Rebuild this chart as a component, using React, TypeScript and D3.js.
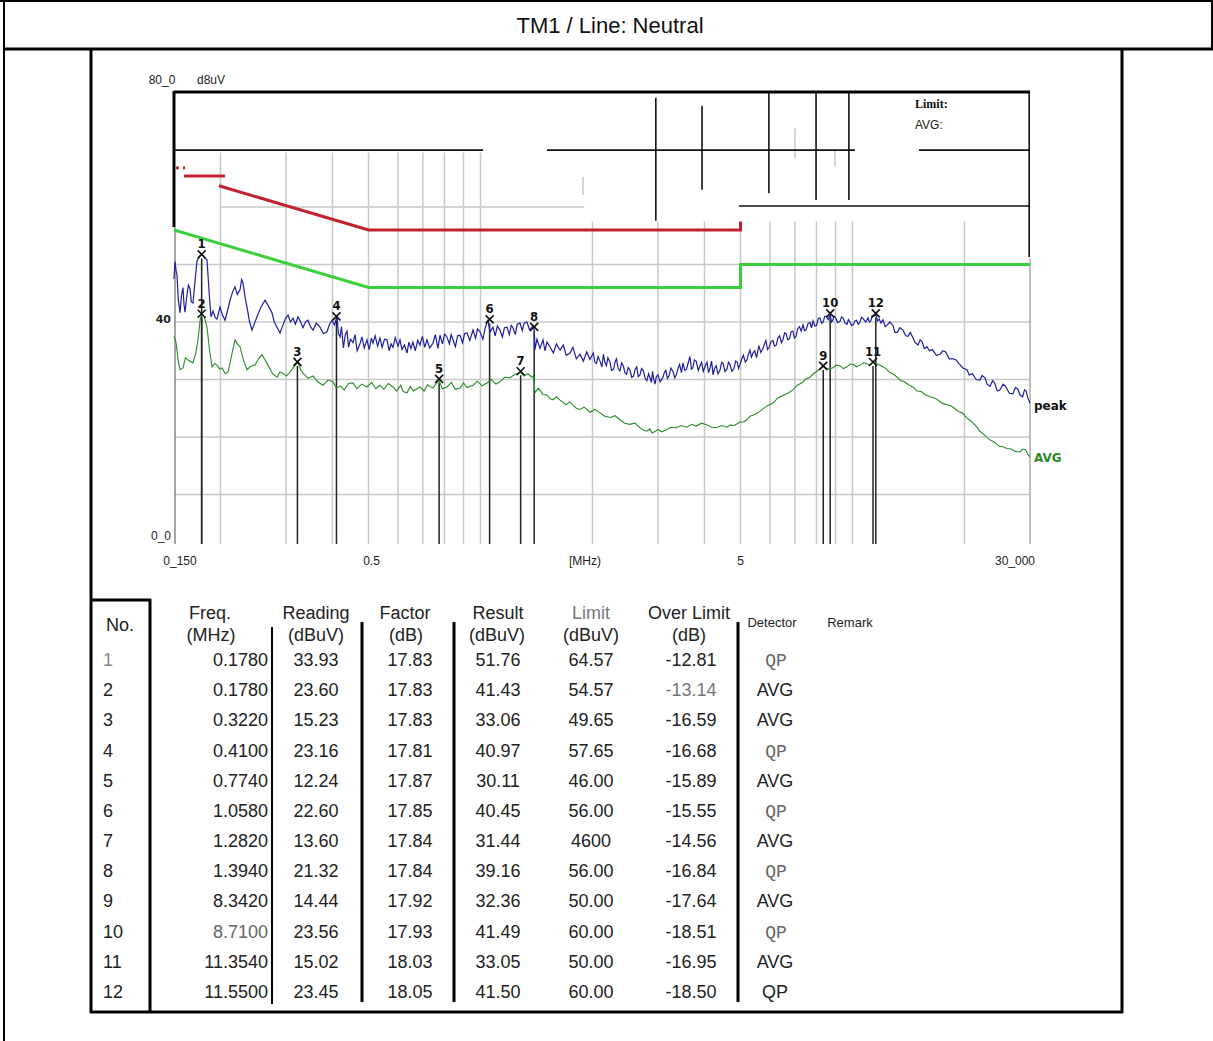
import * as d3 from 'd3';

// ---- data ----
const peakTrace: [number, number][] = [
  [0.15, 47.5], [0.151, 50.5], [0.1519, 49.0], [0.1528, 48.2], [0.154, 44.0], [0.1557, 41.6], [0.157, 44.5],
  [0.1586, 46.0], [0.1596, 43.0], [0.1606, 41.7], [0.162, 44.0], [0.164, 46.4], [0.1656, 45.8], [0.167, 43.5],
  [0.1687, 43.3], [0.1705, 46.5], [0.1729, 50.6], [0.176, 51.5], [0.1784, 51.8], [0.181, 51.2], [0.184, 50.8],
  [0.1865, 45.0], [0.1886, 40.9], [0.191, 41.9], [0.1935, 40.8], [0.1958, 40.5], [0.1994, 42.6], [0.2025, 41.2],
  [0.2057, 40.3], [0.209, 42.0], [0.2122, 43.8], [0.2155, 45.2], [0.2188, 46.1], [0.222, 44.8], [0.2257, 45.6],
  [0.228, 47.4], [0.2299, 46.8], [0.233, 44.2], [0.2357, 42.6], [0.2395, 40.0], [0.2431, 38.6], [0.247, 39.8],
  [0.2507, 40.9], [0.257, 42.6], [0.2635, 43.8], [0.269, 42.8], [0.2751, 41.6], [0.279, 40.0], [0.2838, 39.1],
  [0.2891, 38.1], [0.2945, 39.5], [0.299, 40.6], [0.3038, 41.2], [0.3085, 40.0], [0.3134, 40.7], [0.318, 39.6],
  [0.3232, 40.9], [0.328, 40.1], [0.3333, 39.0], [0.3385, 40.0], [0.3438, 40.3], [0.349, 39.2], [0.3546, 38.6],
  [0.362, 39.8], [0.3703, 39.1], [0.378, 38.0], [0.3867, 38.3], [0.393, 39.6], [0.3989, 40.3], [0.405, 39.5],
  [0.4114, 41.0], [0.415, 38.0], [0.4192, 37.4], [0.423, 39.2], [0.428, 35.5], [0.433, 37.8], [0.4376, 38.4],
  [0.442, 35.6], [0.447, 37.0], [0.4542, 36.4], [0.46, 37.8], [0.466, 35.0], [0.4743, 36.2], [0.48, 37.4],
  [0.487, 35.5], [0.4953, 36.9], [0.502, 35.2], [0.509, 37.2], [0.514, 36.3], [0.521, 37.6], [0.529, 35.8],
  [0.5367, 37.2], [0.544, 35.6], [0.552, 37.0], [0.5605, 36.9], [0.568, 35.0], [0.575, 36.2], [0.5817, 35.6],
  [0.59, 37.3], [0.6, 35.8], [0.6075, 36.9], [0.615, 35.2], [0.625, 36.0], [0.6343, 34.6], [0.642, 36.5],
  [0.65, 35.4], [0.6583, 36.5], [0.668, 35.0], [0.678, 36.8], [0.6874, 36.0], [0.698, 37.5], [0.708, 35.6],
  [0.7179, 36.9], [0.73, 35.5], [0.7452, 36.3], [0.756, 37.8], [0.7686, 35.4], [0.7782, 37.7], [0.79, 36.2],
  [0.801, 37.9], [0.8127, 37.4], [0.825, 36.2], [0.834, 37.8], [0.8435, 36.9], [0.856, 35.7], [0.868, 37.6],
  [0.8809, 37.7], [0.895, 36.4], [0.906, 38.0], [0.9199, 38.1], [0.936, 36.8], [0.9546, 38.6], [0.97, 37.2],
  [0.982, 38.8], [0.9968, 38.3], [1.015, 37.0], [1.03, 39.0], [1.0473, 40.4], [1.06, 38.2], [1.0804, 39.1],
  [1.095, 37.6], [1.11, 39.3], [1.1282, 38.6], [1.145, 37.4], [1.16, 39.0], [1.1782, 39.1], [1.195, 37.8],
  [1.21, 39.4], [1.2227, 39.0], [1.24, 37.8], [1.255, 39.6], [1.2767, 39.8], [1.295, 38.5], [1.31, 39.8],
  [1.3332, 40.0], [1.355, 38.6], [1.3835, 39.3], [1.395, 38.6], [1.4008, 35.2], [1.4182, 37.0], [1.445, 35.4],
  [1.4723, 36.9], [1.49, 35.0], [1.509, 36.5], [1.537, 35.7], [1.57, 34.6], [1.6, 36.2], [1.636, 35.1],
  [1.67, 36.0], [1.7, 34.2], [1.74, 34.6], [1.772, 35.6], [1.81, 33.6], [1.851, 34.4], [1.89, 33.2],
  [1.93, 34.8], [1.969, 33.5], [2.01, 34.6], [2.03, 33.0], [2.05, 32.8], [2.07, 34.0], [2.095, 33.2],
  [2.12, 32.2], [2.14, 34.4], [2.16, 33.0], [2.18, 32.4], [2.2, 33.8], [2.229, 33.0], [2.25, 31.6],
  [2.28, 31.8], [2.3, 33.1], [2.32, 33.6], [2.345, 31.9], [2.371, 31.5], [2.395, 32.9], [2.42, 32.4],
  [2.445, 31.2], [2.47, 30.9], [2.495, 32.1], [2.523, 31.6], [2.55, 30.4], [2.58, 30.6], [2.605, 31.8],
  [2.63, 32.2], [2.655, 30.5], [2.683, 30.8], [2.71, 31.9], [2.74, 31.5], [2.77, 30.2], [2.8, 29.8],
  [2.83, 31.0], [2.855, 30.3], [2.88, 29.5], [2.9, 31.4], [2.925, 29.9], [2.945, 29.2], [2.97, 30.5],
  [3.0, 30.8], [3.04, 29.6], [3.094, 30.4], [3.12, 31.2], [3.15, 31.6], [3.18, 30.2], [3.21, 30.6],
  [3.25, 32.0], [3.291, 31.4], [3.33, 30.3], [3.36, 30.8], [3.4, 32.0], [3.43, 32.6], [3.47, 31.2],
  [3.502, 32.9], [3.54, 31.6], [3.58, 31.8], [3.62, 33.0], [3.657, 34.0], [3.69, 31.8], [3.72, 32.0],
  [3.76, 33.4], [3.8, 33.2], [3.85, 31.6], [3.891, 32.4], [3.93, 33.0], [3.97, 31.4], [4.02, 32.4],
  [4.063, 33.0], [4.1, 31.2], [4.14, 32.0], [4.18, 33.2], [4.22, 30.8], [4.26, 31.9], [4.3, 32.4],
  [4.35, 31.0], [4.402, 31.6], [4.45, 33.0], [4.49, 32.8], [4.54, 31.4], [4.598, 31.8], [4.64, 33.0],
  [4.684, 32.6], [4.74, 31.4], [4.8, 31.9], [4.85, 33.2], [4.9, 33.0], [4.94, 31.9], [4.983, 32.6],
  [5.04, 33.6], [5.09, 34.2], [5.15, 33.0], [5.203, 33.4], [5.25, 34.4], [5.3, 35.1], [5.35, 33.9],
  [5.401, 34.6], [5.46, 35.0], [5.52, 33.8], [5.56, 34.8], [5.6, 35.9], [5.67, 34.7], [5.745, 35.4],
  [5.8, 36.2], [5.85, 36.8], [5.91, 35.2], [5.97, 35.6], [6.04, 36.6], [6.111, 36.8], [6.17, 35.8],
  [6.24, 36.0], [6.3, 37.2], [6.37, 37.6], [6.44, 36.4], [6.503, 37.0], [6.57, 38.1], [6.63, 38.0],
  [6.7, 36.9], [6.77, 37.1], [6.84, 38.3], [6.918, 38.4], [6.98, 37.2], [7.05, 37.5], [7.12, 38.8],
  [7.2, 39.2], [7.28, 38.4], [7.362, 39.5], [7.43, 38.5], [7.5, 38.6], [7.6, 39.8], [7.688, 39.9],
  [7.76, 39.0], [7.832, 40.2], [7.92, 39.3], [8.0, 39.4], [8.09, 40.6], [8.178, 40.7], [8.26, 39.8],
  [8.34, 40.0], [8.42, 41.0], [8.5, 41.0], [8.6, 40.4], [8.71, 41.3], [8.78, 40.0], [8.84, 40.2],
  [8.92, 41.0], [9.0, 40.8], [9.12, 39.9], [9.253, 40.1], [9.35, 40.9], [9.45, 40.6], [9.55, 39.8],
  [9.66, 39.6], [9.75, 40.4], [9.845, 40.0], [9.95, 39.4], [10.05, 39.5], [10.15, 40.2], [10.25, 40.3],
  [10.36, 39.6], [10.47, 40.0], [10.58, 40.8], [10.7, 40.5], [10.85, 40.0], [11.01, 40.7], [11.1, 40.0],
  [11.2, 40.2], [11.3, 41.1], [11.4, 41.0], [11.55, 41.3], [11.68, 40.2], [11.8, 40.5], [11.93, 39.8],
  [12.07, 40.4], [12.25, 39.2], [12.4, 39.5], [12.6, 40.0], [12.85, 39.4], [13.0, 38.2], [13.2, 38.2],
  [13.4, 39.0], [13.67, 38.6], [13.9, 37.6], [14.1, 37.5], [14.3, 38.2], [14.54, 37.2], [14.75, 36.4],
  [15.0, 36.0], [15.2, 36.9], [15.4, 36.5], [15.6, 35.4], [15.86, 35.7], [16.1, 35.0], [16.4, 35.2],
  [16.8, 34.2], [17.19, 34.4], [17.5, 35.0], [17.8, 34.8], [18.2, 33.6], [18.63, 33.6], [19.0, 33.4],
  [19.3, 32.8], [19.8, 32.0], [20.31, 31.7], [20.6, 30.8], [21.0, 31.0], [21.5, 30.0], [22.01, 29.9],
  [22.3, 30.7], [22.7, 30.3], [23.0, 29.2], [23.42, 28.8], [23.8, 29.8], [24.1, 29.4], [24.5, 28.0],
  [24.91, 28.2], [25.4, 29.2], [25.8, 28.8], [26.4, 27.6], [27.0, 27.5], [27.4, 28.6], [27.8, 28.4],
  [28.2, 27.3], [28.66, 27.0], [29.0, 28.2], [29.3, 28.0], [29.6, 26.8], [30.0, 25.9],
];

const avgTrace: [number, number][] = [
  [0.15, 37.5], [0.1519, 36.5], [0.154, 33.2], [0.1557, 31.7], [0.1586, 32.0], [0.161, 33.8], [0.1636, 33.4],
  [0.1687, 32.9], [0.1715, 34.5], [0.174, 36.9], [0.1765, 40.6], [0.1784, 41.4], [0.181, 40.8], [0.184, 39.1],
  [0.187, 35.0], [0.1898, 32.2], [0.193, 32.8], [0.1958, 32.5], [0.199, 31.8], [0.202, 32.0], [0.206, 31.0],
  [0.2096, 31.3], [0.214, 34.0], [0.2188, 36.9], [0.222, 36.2], [0.2257, 35.7], [0.231, 33.2], [0.2357, 31.7],
  [0.241, 32.3], [0.2477, 32.5], [0.253, 33.6], [0.2586, 34.3], [0.264, 33.3], [0.2684, 32.5], [0.276, 31.0],
  [0.2838, 30.4], [0.289, 31.3], [0.2945, 31.1], [0.301, 30.6], [0.3076, 31.3], [0.315, 32.2], [0.3232, 33.0],
  [0.328, 31.8], [0.3333, 31.1], [0.344, 30.2], [0.3546, 30.6], [0.365, 29.6], [0.3773, 29.0], [0.389, 29.9],
  [0.4014, 29.6], [0.41, 28.5], [0.4192, 28.9], [0.43, 28.2], [0.442, 29.3], [0.4542, 29.4], [0.465, 28.4],
  [0.48, 29.2], [0.4953, 28.7], [0.51, 29.5], [0.523, 28.4], [0.5367, 29.0], [0.55, 28.3], [0.565, 29.3],
  [0.5817, 28.7], [0.595, 28.0], [0.61, 29.0], [0.62, 27.9], [0.6343, 27.7], [0.648, 28.8], [0.66, 28.0],
  [0.6874, 28.7], [0.705, 28.0], [0.72, 29.1], [0.7452, 28.5], [0.76, 29.3], [0.774, 29.8], [0.79, 28.4],
  [0.8127, 28.7], [0.835, 29.5], [0.855, 28.3], [0.8809, 28.5], [0.9, 29.4], [0.92, 28.6], [0.9546, 29.0],
  [0.98, 29.7], [1.01, 28.9], [1.0409, 29.4], [1.07, 30.0], [1.1, 29.2], [1.1282, 29.6], [1.16, 30.4],
  [1.2003, 30.3], [1.24, 30.9], [1.282, 31.2], [1.31, 30.6], [1.34, 31.0], [1.375, 30.4], [1.39, 30.6],
  [1.4008, 27.7], [1.43, 28.5], [1.4723, 27.4], [1.509, 27.3], [1.54, 26.6], [1.57, 26.5], [1.6, 27.0],
  [1.636, 26.4], [1.7, 25.6], [1.735, 26.1], [1.772, 25.6], [1.81, 25.0], [1.85, 24.8], [1.9, 25.2],
  [1.969, 24.3], [2.03, 24.8], [2.095, 24.2], [2.16, 23.6], [2.23, 23.4], [2.3, 23.7], [2.371, 23.0],
  [2.44, 22.4], [2.52, 22.2], [2.6, 22.4], [2.683, 21.6], [2.74, 21.2], [2.8, 21.0], [2.85, 21.4],
  [2.892, 20.7], [2.95, 21.0], [3.0, 21.3], [3.07, 20.9], [3.151, 21.2], [3.25, 21.7], [3.35, 21.6],
  [3.46, 22.0], [3.585, 21.7], [3.7, 22.2], [3.8, 21.9], [3.93, 22.4], [4.063, 22.1], [4.18, 21.7],
  [4.3, 21.6], [4.45, 22.0], [4.598, 21.7], [4.7, 22.1], [4.8, 22.0], [4.9, 22.3], [4.983, 22.6],
  [5.1, 22.6], [5.2, 23.0], [5.3, 23.6], [5.401, 23.8], [5.57, 24.2], [5.74, 24.9], [5.92, 25.5],
  [6.111, 25.9], [6.3, 26.8], [6.5, 27.2], [6.7, 27.6], [6.918, 28.2], [7.1, 29.0], [7.3, 29.4],
  [7.5, 30.1], [7.688, 30.4], [7.85, 31.0], [8.0, 31.4], [8.17, 31.8], [8.342, 32.3], [8.6, 31.8],
  [8.835, 32.0], [9.05, 32.5], [9.25, 32.4], [9.45, 31.9], [9.663, 32.2], [9.85, 32.7], [10.05, 32.6],
  [10.25, 32.2], [10.47, 32.5], [10.7, 32.9], [10.9, 32.8], [11.1, 32.5], [11.354, 33.0], [11.7, 32.7],
  [12.07, 32.2], [12.3, 31.9], [12.6, 31.2], [12.9, 30.9], [13.17, 30.4], [13.5, 29.8], [13.8, 29.6],
  [14.2, 29.0], [14.54, 28.7], [14.9, 28.0], [15.3, 27.9], [15.7, 27.3], [16.16, 27.0], [16.6, 26.8],
  [17.0, 26.4], [17.5, 25.8], [17.99, 25.6], [18.4, 25.4], [18.8, 25.0], [19.3, 24.4], [19.76, 24.2],
  [20.2, 23.4], [20.6, 23.0], [21.1, 22.4], [21.6, 21.7], [22.0, 21.0], [22.5, 20.5], [23.0, 19.9],
  [23.42, 19.5], [23.9, 19.2], [24.3, 18.9], [24.8, 18.4], [25.38, 18.3], [26.0, 18.0], [26.7, 17.9],
  [27.4, 17.5], [28.19, 17.4], [28.7, 17.9], [29.2, 17.8], [29.6, 17.0], [30.0, 16.5],
];

// limit lines (QP is only partly visible on the scan)
const qpLimit: [number, number][] = [[0.198, 63.7], [0.5, 56], [5, 56], [5, 57.5]];
const qpLimitBits: [number, number][][] = [
  [[0.1596, 65.4], [0.2057, 65.4]],
  [[0.1519, 66.8], [0.1545, 66.8]],
  [[0.1586, 66.8], [0.1606, 66.8]],
];
const avgLimit: [number, number][] = [[0.15, 56], [0.5, 46], [5, 46], [5, 50], [30, 50]];

// stray black lines on the scanned upper area
const scanLines: [number, number][][] = [
  [[0.15, 69.9], [1.016, 69.9]],
  [[1.509, 69.9], [10.15, 69.9]],
  [[15.09, 69.9], [30, 69.9]],
  [[4.95, 60.17], [30, 60.17]],
  [[2.96, 79.0], [2.96, 57.6]],
  [[3.94, 77.6], [3.94, 63.0]],
  [[5.96, 80], [5.96, 62.4]],
  [[7.98, 80], [7.98, 61.2]],
  [[9.78, 80], [9.78, 61.2]],
  [[29.85, 80], [29.85, 51.3]],
];
const scanFaint: [number, number][][] = [
  [[7.0, 73.7], [7.0, 68.5]],
  [[8.97, 69.9], [8.97, 67.0]],
  [[1.886, 65.2], [1.886, 62.1]],
  [[0.2, 60.0], [1.9, 60.0]],
];

const gridFreqs = [0.2, 0.3, 0.4, 0.5, 0.6, 0.7, 0.8, 0.9, 1, 2, 3, 4, 5, 6, 7, 8, 9, 10, 20];
const gridLevels = [10, 20, 30, 40, 50];

const rowNo = ['1', '2', '3', '4', '5', '6', '7', '8', '9', '10', '11', '12'];
const freqText = ['0.1780', '0.1780', '0.3220', '0.4100', '0.7740', '1.0580', '1.2820', '1.3940', '8.3420', '8.7100', '11.3540', '11.5500'];
const markerFreq = [0.178, 0.178, 0.322, 0.41, 0.774, 1.058, 1.282, 1.394, 8.342, 8.71, 11.354, 11.55];
const readingText = ['33.93', '23.60', '15.23', '23.16', '12.24', '22.60', '13.60', '21.32', '14.44', '23.56', '15.02', '23.45'];
const factorText = ['17.83', '17.83', '17.83', '17.81', '17.87', '17.85', '17.84', '17.84', '17.92', '17.93', '18.03', '18.05'];
const resultVals = [51.76, 41.43, 33.06, 40.97, 30.11, 40.45, 31.44, 39.16, 32.36, 41.49, 33.05, 41.5];
const limitText = ['64.57', '54.57', '49.65', '57.65', '46.00', '56.00', '4600', '56.00', '50.00', '60.00', '50.00', '60.00'];
const overLimitText = ['-12.81', '-13.14', '-16.59', '-16.68', '-15.89', '-15.55', '-14.56', '-16.84', '-17.64', '-18.51', '-16.95', '-18.50'];
const detector = ['QP', 'AVG', 'AVG', 'QP', 'AVG', 'QP', 'AVG', 'QP', 'AVG', 'QP', 'AVG', 'QP'];

const SANS = '"Liberation Sans", Arial, sans-serif';

export default function App() {
  const W = 1213;
  const H = 1041;

  const x = d3.scaleLog().domain([0.15, 30]).range([174, 1030]);
  const y = d3.scaleLinear().domain([0, 80]).range([552, 92]);
  const floorDb = 1.4; // scan cuts the plot just above 0
  const yBottom = y(floorDb);

  const line = d3.line<[number, number]>().x(d => x(d[0])).y(d => y(d[1]));

  const rowY = d3.scaleLinear().domain([0, 11]).range([666, 998]);
  const textCol = '#222';

  return (
    <div style={{ position: 'absolute', left: 0, top: 0 }}>
      <svg width={W} height={H} style={{ display: 'block', background: '#fff' }} fontFamily={SANS}>
        {/* frame */}
        <line x1={4} y1={0} x2={4} y2={H} stroke="#000" strokeWidth={2} />
        <line x1={0} y1={1} x2={W} y2={1} stroke="#000" strokeWidth={2} />
        <line x1={W - 1} y1={0} x2={W - 1} y2={49} stroke="#000" strokeWidth={2} />
        <line x1={4} y1={49} x2={W} y2={49} stroke="#000" strokeWidth={3} />
        <line x1={91} y1={49} x2={91} y2={1013} stroke="#000" strokeWidth={3} />
        <line x1={1122} y1={49} x2={1122} y2={1013} stroke="#000" strokeWidth={3} />
        <line x1={90} y1={1012} x2={1123} y2={1012} stroke="#000" strokeWidth={3} />
        <text x={610} y={33} textAnchor="middle" fontSize={22} fill="#111">TM1 / Line: Neutral</text>

        {/* grid */}
        {gridFreqs.map(f => (
          <line key={'gv' + f} x1={x(f)} x2={x(f)} y1={y(f < 1.5 ? 69.5 : 57.5)} y2={yBottom}
            stroke="#c8c8c8" strokeWidth={1.5} />
        ))}
        {gridLevels.map(v => (
          <line key={'gh' + v} x1={x(0.15)} x2={x(30)} y1={y(v)} y2={y(v)} stroke="#c8c8c8" strokeWidth={1.5} />
        ))}
        <line x1={x(30)} x2={x(30)} y1={y(51)} y2={yBottom} stroke="#aaa" strokeWidth={1.5} />
        {scanFaint.map((s, i) => (
          <path key={'sf' + i} d={line(s) || ''} stroke="#d4d4d4" strokeWidth={2} fill="none" />
        ))}

        {/* axes frame */}
        <line x1={x(0.15)} x2={x(30)} y1={y(80)} y2={y(80)} stroke="#000" strokeWidth={3} />
        <line x1={x(0.15)} x2={x(0.15)} y1={y(80) - 1} y2={y(56.5)} stroke="#000" strokeWidth={3} />
        <line x1={x(0.15) + 1} x2={x(0.15) + 1} y1={y(56.5)} y2={yBottom} stroke="#888" strokeWidth={1.5} />
        {scanLines.map((s, i) => (
          <path key={'sl' + i} d={line(s) || ''} stroke="#111" strokeWidth={1.6} fill="none" />
        ))}

        {/* limits */}
        <path d={line(avgLimit) || ''} stroke="#3ccf3c" strokeWidth={3} fill="none" />
        <path d={line(qpLimit) || ''} stroke="#c0222e" strokeWidth={3} fill="none" />
        {qpLimitBits.map((s, i) => (
          <path key={'qb' + i} d={line(s) || ''} stroke="#c0222e" strokeWidth={3} fill="none" />
        ))}

        {/* marker drop lines */}
        {markerFreq.map((f, i) => (
          <line key={'ml' + i} x1={x(f)} x2={x(f)} y1={y(resultVals[i]) + 4} y2={yBottom}
            stroke="#222" strokeWidth={1.5} />
        ))}

        {/* traces */}
        <path d={line(avgTrace) || ''} stroke="#2a8a2a" strokeWidth={1.1} fill="none" />
        <path d={line(peakTrace) || ''} stroke="#1f1f9e" strokeWidth={1.2} fill="none" />

        {/* markers */}
        {markerFreq.map((f, i) => {
          const cx = x(f);
          const cy = y(resultVals[i]);
          return (
            <g key={'mk' + i}>
              <line x1={cx - 4} y1={cy - 4} x2={cx + 4} y2={cy + 4} stroke="#111" strokeWidth={1.6} />
              <line x1={cx - 4} y1={cy + 4} x2={cx + 4} y2={cy - 4} stroke="#111" strokeWidth={1.6} />
              <text x={cx} y={cy - 6} textAnchor="middle" fontSize={13} fontWeight="bold"
                fontFamily='"DejaVu Sans Condensed", "DejaVu Sans", sans-serif' fill="#111">{rowNo[i]}</text>
            </g>
          );
        })}

        {/* axis labels */}
        <text x={162} y={84} textAnchor="middle" fontSize={12} fill="#222">80_0</text>
        <text x={211} y={84} textAnchor="middle" fontSize={12} fill="#222">d8uV</text>
        <text x={171} y={y(40) + 1} textAnchor="end" fontSize={11} fontWeight="bold"
          fontFamily='"DejaVu Sans", sans-serif' fill="#222">40</text>
        <text x={171} y={540} textAnchor="end" fontSize={12} fill="#222">0_0</text>
        <text x={x(0.15) + 6} y={565} textAnchor="middle" fontSize={12} fill="#222">0_150</text>
        <text x={x(0.5) + 3} y={565} textAnchor="middle" fontSize={12} fill="#222">0.5</text>
        <text x={585} y={565} textAnchor="middle" fontSize={12} fill="#222">[MHz)</text>
        <text x={x(5)} y={565} textAnchor="middle" fontSize={12} fill="#222">5</text>
        <text x={x(30) - 15} y={565} textAnchor="middle" fontSize={12} fill="#222">30_000</text>
        <text x={915} y={108} fontSize={12} fontWeight="bold" fontFamily='"Liberation Serif", serif' fill="#111">Limit:</text>
        <text x={915} y={129} fontSize={12} fill="#222">AVG:</text>
        <text x={x(30) + 4} y={410} fontSize={12} fontWeight="bold" fontFamily='"DejaVu Sans", sans-serif' fill="#111">peak</text>
        <text x={x(30) + 4} y={462} fontSize={12} fontWeight="bold" fontFamily='"DejaVu Sans", sans-serif' fill="#2a8a2a">AVG</text>

        {/* table */}
        <line x1={90} y1={600} x2={151} y2={600} stroke="#000" strokeWidth={3} />
        <line x1={150} y1={599} x2={150} y2={1012} stroke="#000" strokeWidth={3} />
        <line x1={272} y1={627} x2={272} y2={1004} stroke="#000" strokeWidth={2} />
        {[362, 454, 738].map(sx => (
          <line key={'sep' + sx} x1={sx} y1={622} x2={sx} y2={1002} stroke="#000" strokeWidth={3} />
        ))}

        <g fontSize={18} fill={textCol}>
          <text x={120} y={631} textAnchor="middle">No.</text>
          <text x={210} y={619} textAnchor="middle">Freq.</text>
          <text x={211} y={641} textAnchor="middle">(MHz)</text>
          <text x={316} y={619} textAnchor="middle">Reading</text>
          <text x={316} y={641} textAnchor="middle">(dBuV)</text>
          <text x={405} y={619} textAnchor="middle">Factor</text>
          <text x={406} y={641} textAnchor="middle">(dB)</text>
          <text x={498} y={619} textAnchor="middle">Result</text>
          <text x={497} y={641} textAnchor="middle">(dBuV)</text>
          <text x={591} y={619} textAnchor="middle" fill="#777">Limit</text>
          <text x={591} y={641} textAnchor="middle">(dBuV)</text>
          <text x={689} y={619} textAnchor="middle">Over Limit</text>
          <text x={689} y={641} textAnchor="middle">(dB)</text>
        </g>
        <text x={772} y={627} textAnchor="middle" fontSize={13} fill={textCol}>Detector</text>
        <text x={850} y={627} textAnchor="middle" fontSize={13} fill={textCol}>Remark</text>

        {rowNo.map((n, i) => {
          const ty = rowY(i);
          const mono = detector[i] === 'QP' && i !== 11;
          return (
            <g key={'row' + i} fontSize={18} fill={textCol}>
              <text x={103} y={ty} fill={i === 0 ? '#888' : textCol}>{n}</text>
              <text x={268} y={ty} textAnchor="end" fill={i === 9 ? '#666' : textCol}>{freqText[i]}</text>
              <text x={316} y={ty} textAnchor="middle">{readingText[i]}</text>
              <text x={410} y={ty} textAnchor="middle">{factorText[i]}</text>
              <text x={498} y={ty} textAnchor="middle">{resultVals[i].toFixed(2)}</text>
              <text x={591} y={ty} textAnchor="middle">{limitText[i]}</text>
              <text x={691} y={ty} textAnchor="middle" fill={i === 1 ? '#777' : textCol}>{overLimitText[i]}</text>
              {mono ? (
                <text x={776} y={ty} textAnchor="middle" fontFamily='"Liberation Mono", monospace' fill="#666">QP</text>
              ) : (
                <text x={775} y={ty} textAnchor="middle">{detector[i]}</text>
              )}
            </g>
          );
        })}
      </svg>
    </div>
  );
}
